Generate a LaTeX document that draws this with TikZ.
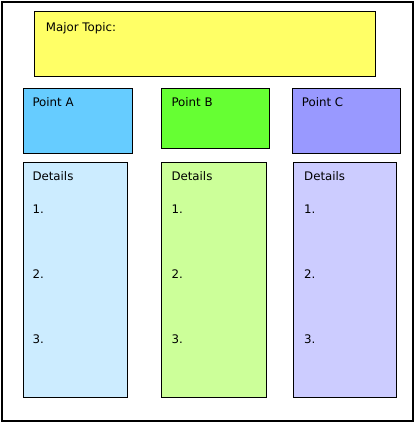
\documentclass[tikz,border=0pt]{standalone}
\usepackage{fontspec}
\setmainfont{DejaVu Sans}
\definecolor{topicY}{HTML}{FFFF66}
\definecolor{ptA}{HTML}{66CCFF}
\definecolor{ptB}{HTML}{66FF33}
\definecolor{ptC}{HTML}{9999FF}
\definecolor{detA}{HTML}{CCECFF}
\definecolor{detB}{HTML}{CCFF99}
\definecolor{detC}{HTML}{CCCCFF}
\tikzset{
  box/.style={draw=black, line width=1pt, rectangle, inner sep=0pt, anchor=north west},
  lbl/.style={anchor=base west, inner sep=0pt, font=\fontsize{11.8}{14}\selectfont, text=black}
}
\newcommand{\boxat}[7]{% name, x1, y1, x2, y2, fill
  \node[box, fill=#6, minimum width={#4-#2}, minimum height={#5-#3}] (#1) at (#2,#3) {};}
\begin{document}
\begin{tikzpicture}[x=1pt,y=-1pt]
\useasboundingbox (0,0) rectangle (414,423);
\node[draw=black, line width=1.4pt, rectangle, inner sep=0pt, anchor=north west,
      minimum width=411pt, minimum height=419pt] (frame) at (1.3,1.3) {};
\boxat{topic}{34.3}{11.3}{375.3}{76.3}{topicY}{}
\boxat{pa}{23.3}{88.3}{131.7}{153.3}{ptA}{}
\boxat{pb}{161.3}{88.3}{269.3}{148.3}{ptB}{}
\boxat{pc}{292.3}{88.3}{400.3}{153.3}{ptC}{}
\boxat{da}{23.3}{162.3}{126.7}{396.7}{detA}{}
\boxat{db}{161.3}{162.3}{265.7}{396.7}{detB}{}
\boxat{dc}{293.3}{162.3}{395.7}{396.7}{detC}{}
\node[lbl] (ttopic) at (45.7,31) {Major Topic:};
\node[lbl] (tpa) at (32.3,106) {Point A};
\node[lbl] (tpb) at (171.3,106) {Point B};
\node[lbl] (tpc) at (301.7,106) {Point C};
\foreach \n/\x in {a/32.3, b/171.3, c/304} {
  \node[lbl] (dt\n) at (\x,180) {Details};
  \node[lbl] (one\n) at (\x,213.3) {1.};
  \node[lbl] (two\n) at (\x,278.3) {2.};
  \node[lbl] (three\n) at (\x,343.3) {3.};
}
\end{tikzpicture}
\end{document}
